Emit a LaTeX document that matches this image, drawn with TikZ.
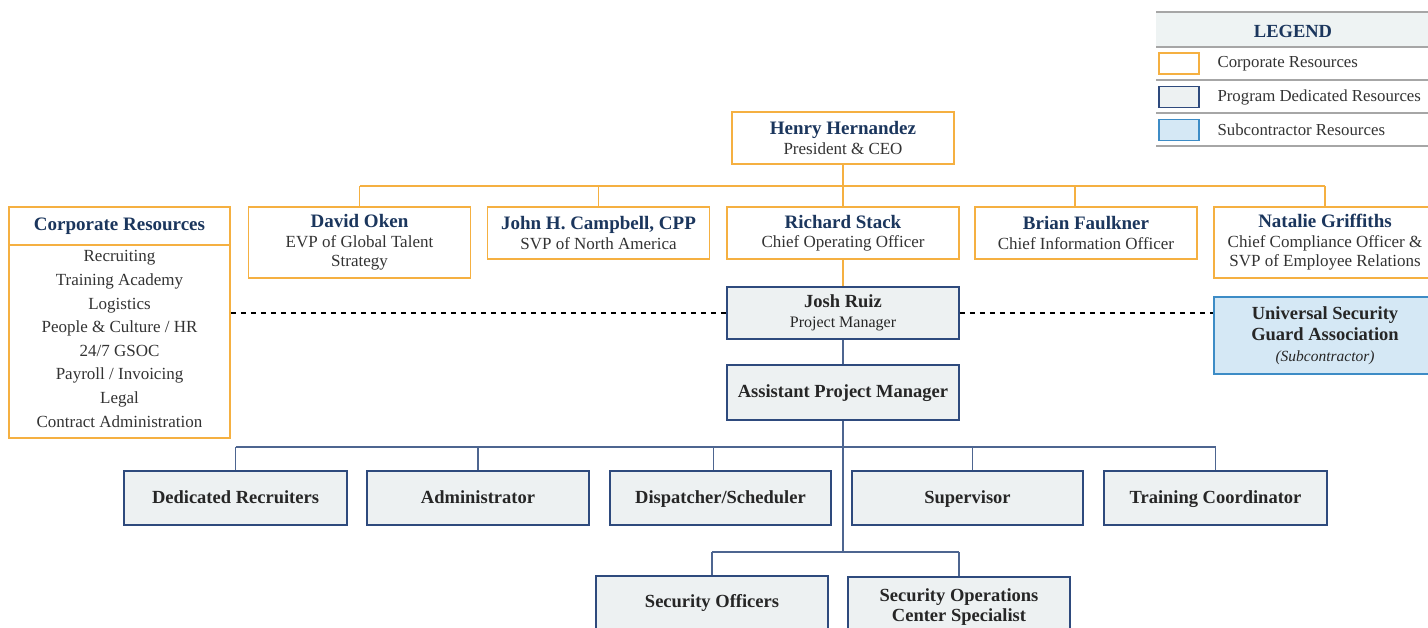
\documentclass[tikz,border=0pt]{standalone}
\usepackage{fontspec}
\setmainfont{Liberation Serif}

\definecolor{corporange}{HTML}{F5B041}
\definecolor{prognavy}{HTML}{2E4A7D}
\definecolor{progfill}{HTML}{EDF1F2}
\definecolor{subblue}{HTML}{3D8CC6}
\definecolor{subfill}{HTML}{D5E8F5}
\definecolor{namenavy}{HTML}{1B365D}
\definecolor{bodygray}{HTML}{333333}
\definecolor{rulegray}{HTML}{A6A6A6}
\definecolor{legendfill}{HTML}{EEF3F3}

\newcommand{\nm}[1]{{\color{namenavy}\bfseries\fontsize{19}{21}\selectfont #1}}
\newcommand{\bx}[1]{{\bfseries\fontsize{18.5}{21}\selectfont #1}}

\tikzset{
  corpbox/.style={draw=corporange, line width=1.5pt, fill=white, inner sep=2pt,
    minimum width=222pt, minimum height=52pt, align=center, text=bodygray,
    font=\fontsize{17}{19.5}\selectfont},
  progbox/.style={draw=prognavy, line width=1.5pt, fill=progfill, inner sep=2pt,
    minimum width=222pt, minimum height=54pt, align=center, text=black!85,
    font=\fontsize{16.5}{19.5}\selectfont},
  onerow/.style={text height=13pt, text depth=2pt},
  subbox/.style={draw=subblue, line width=1.5pt, fill=subfill, inner sep=2pt,
    minimum width=222pt, minimum height=77pt, align=center, text=black!85,
    font=\fontsize{16.5}{21}\selectfont},
  corpline/.style={draw=corporange, line width=1.5pt},
  progline/.style={draw=prognavy!85, line width=1.5pt},
  swatch/.style={minimum width=40pt, minimum height=21pt, inner sep=0pt, line width=1.5pt},
  legendtext/.style={anchor=west, text=bodygray, font=\fontsize{16.8}{19}\selectfont}
}

\begin{document}
\begin{tikzpicture}[x=1pt,y=-1pt]
\useasboundingbox (0,0) rectangle (1428,628);

% legend
\fill[legendfill] (1156,12) rectangle (1428,47);
\draw[rulegray, line width=2.2pt] (1156,12) -- (1428,12);
\foreach \y in {47,80,113,146}
  \draw[rulegray, line width=1.4pt] (1156,\y) -- (1428,\y);
\node[text=namenavy, font=\bfseries\fontsize{18.5}{20}\selectfont] (legendhead) at (1293,31) {LEGEND};
\node[swatch, draw=corporange, fill=white] (keycorp) at (1179,63.5) {};
\node[swatch, draw=prognavy, fill=progfill] (keyprog) at (1179,97) {};
\node[swatch, draw=subblue, fill=subfill] (keysub) at (1179,130) {};
\node[legendtext] at (1214,64) {Corporate Resources};
\node[legendtext] at (1214,97) {Program Dedicated Resources};
\node[legendtext] at (1214,130) {Subcontractor Resources};

% executive level
\node[corpbox] (ceo) at (843,138) {\nm{Henry Hernandez}\\President \& CEO};
\node[corpbox, minimum height=71pt] (evp) at (359.5,242.5) {\nm{David Oken}\\EVP of Global Talent\\Strategy};
\node[corpbox] (svp) at (598.5,233) {\nm{John H. Campbell, CPP}\\SVP of North America};
\node[corpbox, minimum width=232pt] (coo) at (843,233) {\nm{Richard Stack}\\Chief Operating Officer};
\node[corpbox] (cio) at (1086,233) {\nm{Brian Faulkner}\\Chief Information Officer};
\node[corpbox, minimum height=71pt] (cco) at (1325,242.5) {\nm{Natalie Griffiths}\\Chief Compliance Officer \&\\SVP of Employee Relations};

% corporate resources list
\node[corpbox, minimum width=221pt, minimum height=38pt] (corphead) at (119.5,226) {\nm{Corporate Resources}};
\node[corpbox, minimum width=221pt, minimum height=193pt, font=\fontsize{17}{23.6}\selectfont] (corplist) at (119.5,341.5) {};
\node[align=center, text=bodygray, font=\fontsize{17}{23.6}\selectfont] (corpitems) at (119.5,339)
  {Recruiting\\Training Academy\\Logistics\\People \& Culture / HR\\24/7 GSOC\\Payroll / Invoicing\\Legal\\Contract Administration};

% program
\node[progbox, minimum width=232pt, minimum height=52pt] (pm) at (843,313) {\bx{Josh Ruiz}\\{\fontsize{16}{18}\selectfont Project Manager}};
\node[subbox] (usga) at (1325,335.5) {\bx{Universal Security}\\\bx{Guard Association}\\{\itshape\fontsize{15.5}{18}\selectfont (Subcontractor)}};
\node[progbox, onerow, minimum width=232pt, minimum height=55pt] (apm) at (843,392.5) {\bx{Assistant Project Manager}};

\node[progbox, onerow, minimum width=223pt] (rec) at (235.5,498) {\bx{Dedicated Recruiters}};
\node[progbox, onerow] (adm) at (478,498) {\bx{Administrator}};
\node[progbox, onerow, minimum width=221pt] (dsp) at (720.5,498) {\bx{Dispatcher/Scheduler}};
\node[progbox, onerow, minimum width=231pt] (sup) at (967.5,498) {\bx{Supervisor}};
\node[progbox, onerow, minimum width=223pt] (trn) at (1215.5,498) {\bx{Training Coordinator}};

\node[progbox, minimum width=232pt, minimum height=70pt, text depth=20pt] (off) at (712,611) {\bx{Security Officers}};
\node[progbox, minimum width=222pt, minimum height=70pt, text depth=14pt] (soc) at (959,612) {\bx{Security Operations}\\\bx{Center Specialist}};

% connectors
\coordinate (topbar) at (0,186);
\coordinate (midbar) at (0,447);
\coordinate (lowbar) at (0,552);

\draw[corpline] (ceo.south) -- (coo.north);
\draw[corpline] (evp.north |- topbar) -- (cco.north |- topbar);
\foreach \n in {evp,svp,cco}
  \draw[corpline] (\n.north) -- (\n.north |- topbar);
\draw[corpline] ([xshift=-11pt]cio.north) -- ([xshift=-11pt]cio.north |- topbar);
\draw[corpline] (coo.south) -- (pm.north);

\draw[progline] (pm.south) -- (apm.north);
\draw[progline] (apm.south) -- (apm.south |- lowbar);
\draw[progline] (rec.north |- midbar) -- (trn.north |- midbar);
\foreach \n in {rec,adm,trn}
  \draw[progline] (\n.north) -- (\n.north |- midbar);
\draw[progline] ([xshift=-7pt]dsp.north) -- ([xshift=-7pt]dsp.north |- midbar);
\draw[progline] ([xshift=5pt]sup.north) -- ([xshift=5pt]sup.north |- midbar);
\draw[progline] (off.north |- lowbar) -- (soc.north |- lowbar);
\draw[progline] (off.north) -- (off.north |- lowbar);
\draw[progline] (soc.north) -- (soc.north |- lowbar);

\draw[line width=1.1pt, dash pattern=on 5pt off 5pt] (corplist.east |- pm.west) -- (pm.west);
\draw[line width=1.1pt, dash pattern=on 5pt off 5pt] (pm.east) -- (usga.west |- pm.east);
\end{tikzpicture}
\end{document}
